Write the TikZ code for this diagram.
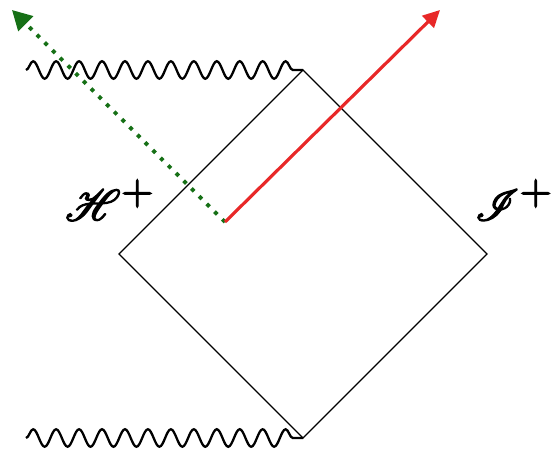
\documentclass[tikz,border=0pt]{standalone}
\usepackage{amssymb}
\usepackage{mathrsfs}
\usepackage{tikz}
\usetikzlibrary{arrows.meta, decorations.pathmorphing}
\definecolor{outray}{RGB}{232,40,40}
\definecolor{inray}{RGB}{22,112,22}
% heavy script letter with a full size plus
\newcommand{\penlabel}[1]{\special{pdf:literal direct 2 Tr 0.75 w}%
  {\fontsize{27}{30}\selectfont$\mathscr{#1}$}\kern0.5pt%
  \raisebox{3.2mm}{\fontsize{26}{30}\selectfont$+$}%
  \special{pdf:literal direct 0 Tr 0.4 w}}
\tikzset{
  boundary/.style  = {line width=0.75pt, line join=miter},
  singular/.style  = {line width=1.3pt, decorate,
                      decoration={snake, segment length=4.59mm, amplitude=1.75mm,
                                  pre length=0pt, post length=0pt}},
  rayout/.style    = {-{Triangle[length=3.4mm, width=3.3mm]}, line width=1.8pt, draw=outray},
  rayin/.style     = {-{Triangle[length=3.9mm, width=4.1mm]}, line width=2.2pt, draw=inray,
                      dash pattern=on 2.2pt off 4pt},
  horizon/.style   = {inner sep=0pt},
}

\begin{document}
\begin{tikzpicture}
                \useasboundingbox (0,0) rectangle (11.16,9);
                % penrose diamond
                \coordinate (top) at (6.06,7.6);
                \coordinate (bot) at (6.06,0.24);
                \coordinate (lft) at (2.38,3.92);
                \coordinate (rgt) at (9.74,3.92);
                \draw[boundary] (top) -- (rgt) -- (bot) -- (lft) -- cycle;
                % singularities
                \draw[singular] (0.52,7.6) -- (top);
                \draw[singular] (0.52,0.24) -- (bot);
                % rays
                \coordinate (src) at (4.5,4.56);
                \coordinate (farR) at (8.8,8.8);
                \coordinate (farL) at (0.24,8.8);
                \draw[rayin] (src) -- (farL);
                \draw[rayout] (src) -- (farR);
                \node[horizon, anchor=west] (hplus) at (1.3,5.0) {\penlabel{H}};
                \node[horizon, anchor=west] (iplus) at (9.5,5.0) {\penlabel{I}};
            \end{tikzpicture}
\end{document}
